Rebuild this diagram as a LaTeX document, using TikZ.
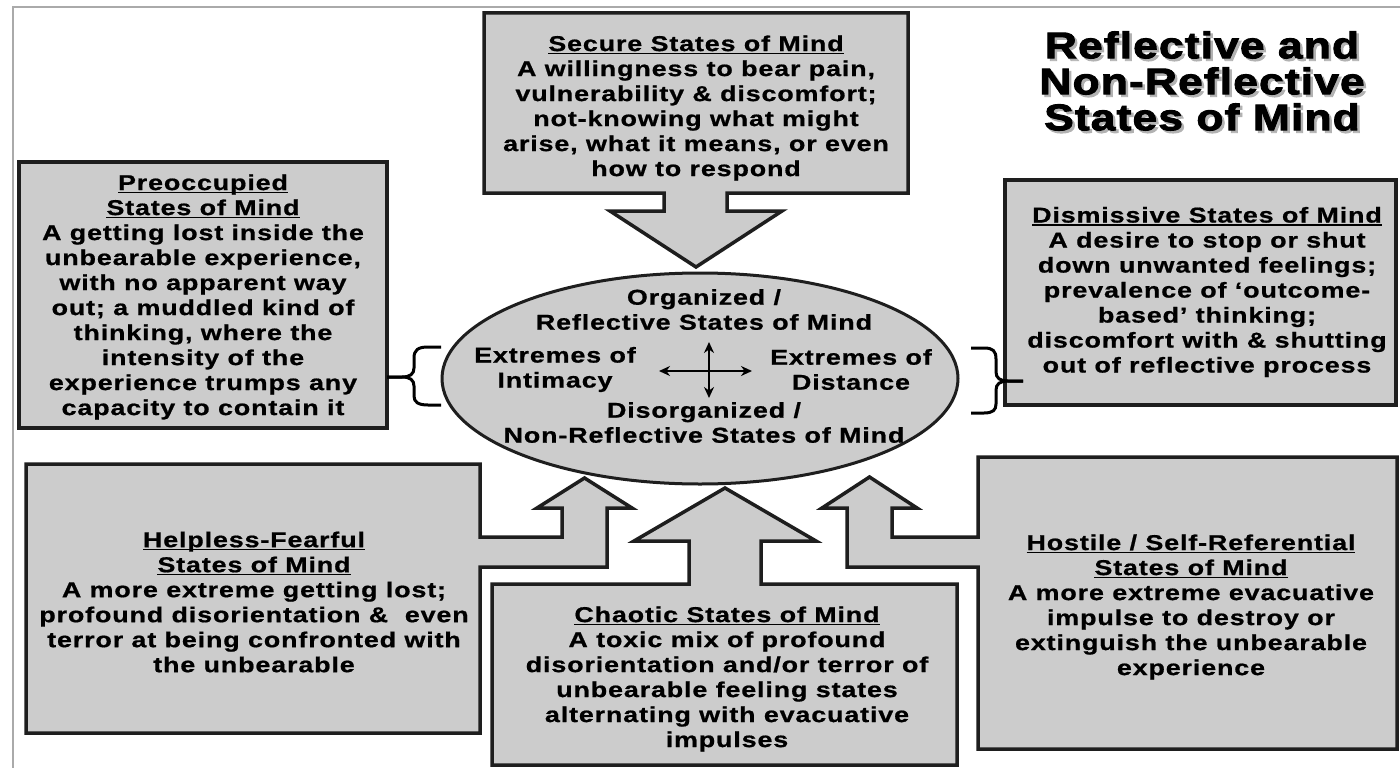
\documentclass[tikz,border=0pt]{standalone}
\usepackage{fontspec}
\setmainfont{Liberation Sans}
\newfontfamily\boxfont{Liberation Sans}[FakeStretch=1.25,LetterSpace=4,BoldFeatures={FakeBold=0.8}]
\newfontfamily\titlefont{Liberation Sans}[FakeStretch=1.2,LetterSpace=3,BoldFeatures={FakeBold=2.5}]
\usetikzlibrary{arrows.meta,shapes.geometric}
\definecolor{boxfill}{HTML}{CCCCCC}
\definecolor{boxline}{HTML}{1E1E1E}
\definecolor{framegray}{HTML}{AAAAAA}
\newcommand\hdr[1]{\setbox0=\hbox{#1}\rlap{\rule[-3.2pt]{\wd0}{1.5pt}}\box0}
\begin{document}
\begin{tikzpicture}[x=1pt,y=-1pt,
  callout/.style={fill=boxfill,draw=boxline,line width=3.5pt,line join=miter},
  txt/.style={font=\boxfont\bfseries\fontsize{21.5}{25}\selectfont,align=center,inner sep=0pt,text=black},
  ttl/.style={font=\titlefont\bfseries\fontsize{37}{36}\selectfont,align=center,inner sep=0pt},
  bracestyle/.style={draw=black,line width=3pt,line cap=butt},
  crossarrow/.style={draw=black,line width=2.8pt,{Stealth[length=11pt,width=10pt]}-{Stealth[length=11pt,width=10pt]}}]
\useasboundingbox (0,0) rectangle (1400,768);
\fill[white] (0,0) rectangle (1400,768);
% frame
\draw[framegray,line width=2pt] (12.7,768) -- (12.7,7) -- (1400,7);

% title with its drop shadow
\node[ttl,text=black!30] (titleshadow) at (1204.5,83.5) {Reflective and\\Non-Reflective\\States of Mind};
\node[ttl,text=black] (title) at (1202,81) {Reflective and\\Non-Reflective\\States of Mind};

% callout shapes
\draw[callout] (484,13) -- (908,13) -- (908,193) -- (727,193) -- (727,211) -- (782,211) -- (696,267) -- (610,211) -- (664,211) -- (664,193) -- (484,193) -- cycle;
\draw[callout] (19,162) rectangle (387,428);
\draw[callout] (1005,180) rectangle (1396,405);
\draw[callout] (26,464) -- (480,464) -- (480,537) -- (562,537) -- (562,508) -- (537,508) -- (584.5,478) -- (632,508) -- (607,508) -- (607,567) -- (480,567) -- (480,733) -- (26,733) -- cycle;
\draw[callout] (492,584) -- (689,584) -- (689,541) -- (634,541) -- (725,488) -- (816,541) -- (761,541) -- (761,584) -- (957,584) -- (957,765) -- (492,765) -- cycle;
\draw[callout] (978,457) -- (1397,457) -- (1397,749) -- (978,749) -- (978,567) -- (847,567) -- (847,508) -- (822,508) -- (869.5,477) -- (917,508) -- (892,508) -- (892,537) -- (978,537) -- cycle;

% ellipse
\node[ellipse,fill=boxfill,draw=boxline,line width=3pt,minimum width=516pt,minimum height=211pt,inner sep=0pt] (ell) at (700,378.5) {};

% box texts
\node[txt] (secure) at (696,108) {\hdr{Secure States of Mind}\\A willingness to bear pain,\\vulnerability \& discomfort;\\not-knowing what might\\arise, what it means, or even\\how to respond};
\node[txt] (preocc) at (203,297) {\hdr{Preoccupied}\\\hdr{States of Mind}\\A getting lost inside the\\unbearable experience,\\with no apparent way\\out; a muddled kind of\\thinking, where the\\intensity of the\\experience trumps any\\capacity to contain it};
\node[txt] (dismiss) at (1207,292) {\hdr{Dismissive States of Mind}\\A desire to stop or shut\\down unwanted feelings;\\prevalence of ‘outcome-\\based’ thinking;\\discomfort with \& shutting\\out of reflective process};
\node[txt] (helpless) at (254,602) {\hdr{Helpless-Fearful}\\\hdr{States of Mind}\\A more extreme getting lost;\\profound disorientation \&~ even\\terror at being confronted with\\the unbearable};
\node[txt] (chaotic) at (727,679) {\hdr{Chaotic States of Mind}\\A toxic mix of profound\\disorientation and/or terror of\\unbearable feeling states\\alternating with evacuative\\impulses};
\node[txt] (hostile) at (1191,607) {\hdr{Hostile / Self-Referential}\\\hdr{States of Mind}\\A more extreme evacuative\\impulse to destroy or\\extinguish the unbearable\\experience};

% ellipse texts
\node[txt] (orgtxt) at (704,309.5) {Organized /\\Reflective States of Mind};
\node[txt] (disorgtxt) at (704,422.5) {Disorganized /\\Non-Reflective States of Mind};
\node[txt] (intimacy) at (555,369.5) {Extremes of\\Intimacy};
\node[txt] (distance) at (851,369.5) {Extremes of\\Distance};

% cross arrows
\coordinate (cl) at (659,371);
\coordinate (cr) at (752,371);
\coordinate (ct) at (709,342);
\coordinate (cb) at (709,398);
\draw[crossarrow] (cl) -- (cr);
\draw[crossarrow] (ct) -- (cb);

% braces
\coordinate (lbtip) at (387,377);
\coordinate (rbtip) at (1023,381);
\draw[bracestyle] (441,347) -- (428,347) .. controls (418,347) and (414,350) .. (414,358) -- (414,368) .. controls (414,374) and (410,377) .. (402,377) -- (lbtip);
\draw[bracestyle] (lbtip) -- (402,377) .. controls (410,377) and (414,380) .. (414,386) -- (414,396) .. controls (414,402) and (418,405) .. (428,405) -- (441,405);
\draw[bracestyle] (971,348) -- (984,348) .. controls (993,348) and (996,351) .. (996,359) -- (996,372) .. controls (996,378) and (1000,381) .. (1008,381) -- (rbtip);
\draw[bracestyle] (rbtip) -- (1008,381) .. controls (1000,381) and (996,384) .. (996,390) -- (996,404) .. controls (996,410) and (993,413) .. (984,413) -- (971,413);
\end{tikzpicture}
\end{document}
